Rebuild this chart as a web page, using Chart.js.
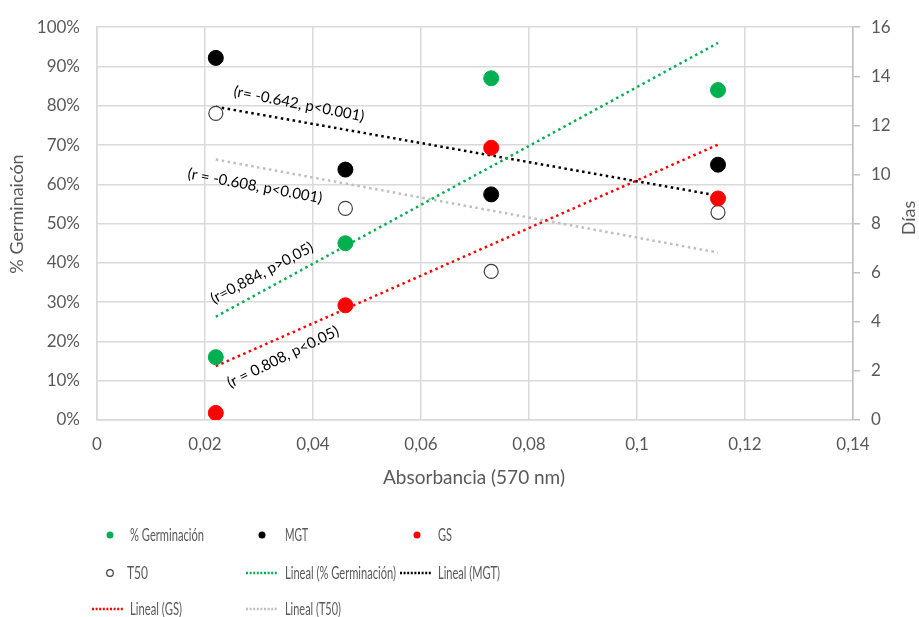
<!DOCTYPE html>
<html>
<head>
<meta charset="utf-8">
<script src="https://cdn.jsdelivr.net/npm/chart.js@4.4.0/dist/chart.umd.min.js"></script>
<style>
  html, body { margin: 0; padding: 0; background: #fff; }
  #wrap { width: 919px; height: 617px; }
</style>
</head>
<body>
<div id="wrap"><canvas id="chart" width="919" height="617"></canvas></div>
<script>
// absorbance values (x)
const absorbancia = [0.022, 0.046, 0.073, 0.115];
// left axis (%)
const germinacion = [16, 45, 87, 84];
const gs = [1.8, 29.2, 69.3, 56.4];
// right axis (days)
const mgt = [14.75, 10.2, 9.19, 10.4];
const t50 = [12.49, 8.62, 6.05, 8.46];

// trend line end points
const trendX = [0.022, 0.115];
const germTrend = [26.3, 96.0];
const gsTrend = [13.7, 70.1];
const mgtTrend = [12.76, 9.14];
const t50Trend = [10.61, 6.82];

const xTicks = [0, 0.02, 0.04, 0.06, 0.08, 0.1, 0.12, 0.14];

const notes = [
    { text: "(r= -0.642, p<0.001)", x: 299, y: 104, angle: 11, w: 138 },
    { text: "(r = -0.608, p<0.001)", x: 255, y: 186, angle: 10.5, w: 142 },
    { text: "(r=0,884, p>0,05)", x: 262, y: 273, angle: -28, w: 120 },
    { text: "(r = 0.808, p<0.05)", x: 283, y: 357, angle: -26, w: 130 }
];

const GREEN = "#00b050", RED = "#ff0000", BLACK = "#000000", GRAY = "#bfbfbf";
const TEXT = "#595959";
const FONT = "Lato, 'Open Sans', sans-serif";

const pts = (xs, ys) => xs.map((x, i) => ({ x: x, y: ys[i] }));

const dotted = { borderWidth: 2.5, borderDash: [2.5, 3.5], pointRadius: 0, fill: false, tension: 0 };

const datasets = [
    { type: "line", label: "Lineal (% Germinación)", data: pts(trendX, germTrend), borderColor: GREEN, yAxisID: "y", order: 5, ...dotted },
    { type: "line", label: "Lineal (MGT)", data: pts(trendX, mgtTrend), borderColor: BLACK, yAxisID: "y1", order: 5, ...dotted },
    { type: "line", label: "Lineal (GS)", data: pts(trendX, gsTrend), borderColor: RED, yAxisID: "y", order: 5, ...dotted },
    { type: "line", label: "Lineal (T50)", data: pts(trendX, t50Trend), borderColor: GRAY, yAxisID: "y1", order: 5, ...dotted },
    { type: "scatter", label: "% Germinación", data: pts(absorbancia, germinacion), yAxisID: "y", backgroundColor: GREEN, borderColor: GREEN, pointRadius: 7.5, order: 1 },
    { type: "scatter", label: "MGT", data: pts(absorbancia, mgt), yAxisID: "y1", backgroundColor: BLACK, borderColor: BLACK, pointRadius: 7.5, order: 1 },
    { type: "scatter", label: "GS", data: pts(absorbancia, gs), yAxisID: "y", backgroundColor: RED, borderColor: RED, pointRadius: 7.5, order: 1 },
    { type: "scatter", label: "T50", data: pts(absorbancia, t50), yAxisID: "y1", backgroundColor: "#ffffff", borderColor: "#404040", borderWidth: 1.2, pointRadius: 7, order: 1 }
];

// legend grid like the Excel one
const legendItems = [
    { label: "% Germinación", kind: "dot", color: GREEN, mx: 110, tx: 130, y: 535, w: 74 },
    { label: "MGT", kind: "dot", color: BLACK, mx: 262, tx: 285, y: 535, w: 23 },
    { label: "GS", kind: "dot", color: RED, mx: 417, tx: 438, y: 535, w: 14 },
    { label: "T50", kind: "ring", color: "#404040", mx: 110, tx: 127, y: 573, w: 21 },
    { label: "Lineal (% Germinación)", kind: "line", color: GREEN, mx: 246, tx: 285, y: 573, w: 111 },
    { label: "Lineal (MGT)", kind: "line", color: BLACK, mx: 400, tx: 438, y: 573, w: 62 },
    { label: "Lineal (GS)", kind: "line", color: RED, mx: 92, tx: 130, y: 609, w: 52 },
    { label: "Lineal (T50)", kind: "line", color: GRAY, mx: 246, tx: 285, y: 609, w: 56 }
];

const extras = {
    id: "extras",
    afterDraw(chart) {
        const ctx = chart.ctx;
        ctx.save();

        // axis titles
        ctx.fillStyle = TEXT;
        ctx.textAlign = "center";
        ctx.textBaseline = "middle";
        ctx.font = "19px " + FONT;
        ctx.fillText("Absorbancia (570 nm)", 474, 478);
        ctx.font = "18px " + FONT;
        ctx.save();
        ctx.translate(17, 214);
        ctx.rotate(-Math.PI / 2);
        ctx.fillText("% Germinaicón", 0, 0);
        ctx.restore();
        ctx.save();
        ctx.translate(909, 218);
        ctx.rotate(-Math.PI / 2);
        ctx.fillText("Días", 0, 0);
        ctx.restore();

        // correlation notes
        ctx.fillStyle = "#000";
        ctx.font = "15px " + FONT;
        notes.forEach(n => {
            ctx.save();
            ctx.translate(n.x, n.y);
            ctx.rotate(n.angle * Math.PI / 180);
            ctx.fillText(n.text, 0, 0, n.w);
            ctx.restore();
        });

        // legend
        ctx.font = "18px " + FONT;
        ctx.textAlign = "left";
        legendItems.forEach(it => {
            if (it.kind === "dot") {
                ctx.fillStyle = it.color;
                ctx.beginPath();
                ctx.arc(it.mx, it.y, 3.5, 0, Math.PI * 2);
                ctx.fill();
            } else if (it.kind === "ring") {
                ctx.strokeStyle = it.color;
                ctx.lineWidth = 1.2;
                ctx.beginPath();
                ctx.arc(it.mx, it.y, 3.3, 0, Math.PI * 2);
                ctx.stroke();
            } else {
                ctx.strokeStyle = it.color;
                ctx.lineWidth = 2.5;
                ctx.setLineDash([2, 1.6]);
                ctx.beginPath();
                ctx.moveTo(it.mx, it.y);
                ctx.lineTo(it.mx + 32, it.y);
                ctx.stroke();
                ctx.setLineDash([]);
            }
            ctx.fillStyle = TEXT;
            ctx.fillText(it.label, it.tx, it.y, it.w);
        });
        ctx.restore();
    }
};

new Chart(document.getElementById("chart"), {
    data: { datasets: datasets },
    options: {
        responsive: false,
        animation: false,
        layout: { padding: { top: 23, right: 0, bottom: 0, left: 0 } },
        plugins: { legend: { display: false }, tooltip: { enabled: false } },
        scales: {
            x: {
                type: "linear",
                min: 0,
                max: 0.14,
                afterBuildTicks: s => { s.ticks = xTicks.map(v => ({ value: v })); },
                afterFit: s => { s.height = 197; },
                grid: { color: "#d9d9d9", lineWidth: 1.5, drawTicks: false },
                border: { color: "#d9d9d9", width: 1.5 },
                ticks: {
                    color: TEXT,
                    font: { family: FONT, size: 17 },
                    padding: 14,
                    callback: v => String(Number(v.toFixed(2))).replace(".", ",")
                }
            },
            y: {
                position: "left",
                min: 0,
                max: 100,
                afterFit: s => { s.width = 97; },
                grid: { color: "#d9d9d9", lineWidth: 1.5, drawTicks: false },
                border: { color: "#d9d9d9", width: 1.5 },
                ticks: {
                    stepSize: 10,
                    color: TEXT,
                    font: { family: FONT, size: 17 },
                    padding: 17,
                    callback: v => v + "%"
                }
            },
            y1: {
                position: "right",
                min: 0,
                max: 16,
                afterFit: s => { s.width = 66; },
                grid: { drawOnChartArea: false, color: GRAY, lineWidth: 1.5, tickLength: 7 },
                border: { color: GRAY, width: 1.5 },
                ticks: {
                    stepSize: 2,
                    color: TEXT,
                    font: { family: FONT, size: 17 },
                    padding: 11
                }
            }
        }
    },
    plugins: [extras]
});
</script>
</body>
</html>
